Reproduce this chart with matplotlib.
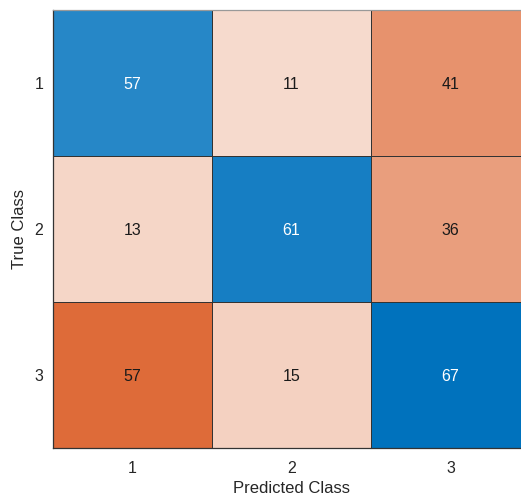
import numpy as np
import matplotlib
matplotlib.use("Agg")
import matplotlib.pyplot as plt
from matplotlib.colors import LinearSegmentedColormap, Normalize

plt.rcParams['font.family'] = ['Liberation Sans', 'DejaVu Sans']

# confusion counts: rows = true class, columns = predicted class
classes = ["1", "2", "3"]
counts = np.array([
    [57, 11, 41],
    [13, 61, 36],
    [57, 15, 67],
])

blue = LinearSegmentedColormap.from_list("diag", ["#ffffff", "#0072bd"])
orange = LinearSegmentedColormap.from_list("offdiag", ["#fcf5f1", "#d95319"])
norm = Normalize(vmin=0, vmax=counts.max())

diag = np.eye(len(classes), dtype=bool)
on_diag = np.ma.masked_where(~diag, counts)
off_diag = np.ma.masked_where(diag, counts)

fig = plt.figure(figsize=(5.21, 4.98), dpi=100)
ax = fig.add_axes([53 / 521, 1 - 448 / 498, 477 / 521, 438 / 498])

edges = np.arange(len(classes) + 1) + 0.5
ax.pcolormesh(edges, edges, off_diag, cmap=orange, norm=norm,
              edgecolors="#333333", linewidth=0.5)
ax.pcolormesh(edges, edges, on_diag, cmap=blue, norm=norm,
              edgecolors="#333333", linewidth=0.5)

for i in range(len(classes)):
    for j in range(len(classes)):
        txt_color = "white" if i == j else "#1a1a1a"
        ax.text(j + 1, i + 1, str(counts[i, j]), ha="center",
                va="center_baseline", fontsize=11.5, color=txt_color)

ax.set_xlim(edges[0], edges[-1])
ax.set_ylim(edges[-1], edges[0])
ax.set_xticks(range(1, len(classes) + 1))
ax.set_yticks(range(1, len(classes) + 1))
ax.set_xticklabels(classes, fontsize=11.5)
ax.set_yticklabels(classes, fontsize=11.5)
ax.tick_params(length=0, colors="#262626")
ax.tick_params(axis="x", pad=9)
ax.tick_params(axis="y", pad=7)
ax.set_xlabel("Predicted Class", fontsize=12, color="#262626", labelpad=4)
ax.set_ylabel("True Class", fontsize=12, color="#262626", labelpad=5)
for side, sp in ax.spines.items():
    sp.set_color("#333333")
    sp.set_linewidth(0.9)
ax.spines["top"].set_color("#999999")

fig.savefig("out.png", dpi=100)
